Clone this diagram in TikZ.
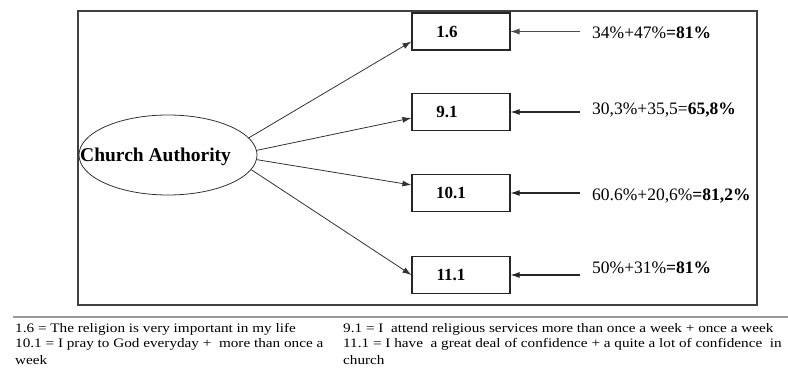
\documentclass[tikz,border=0pt]{standalone}
\usepackage{fontspec}
\setmainfont{Liberation Serif}
\newfontfamily\legendfont[FakeStretch=1.17]{Liberation Serif}
\usetikzlibrary{shapes.geometric,arrows.meta}
\tikzset{
  frame/.style={line width=1.3pt, draw=black!75},
  boxnode/.style={draw=black!85, line width=1.1pt, minimum width=98pt, minimum height=37pt, inner sep=0pt},
  boxtext/.style={xshift=-14pt, inner sep=0pt, font=\fontsize{17}{19}\selectfont\bfseries},
  oval/.style={ellipse, draw=black!80, line width=0.8pt, minimum width=178pt, minimum height=80pt, inner sep=0pt},
  fanarrow/.style={draw=black!80, line width=0.8pt, -{Latex[length=9pt,width=6pt]}},
  inarrow/.style={draw=black!85, line width=1.1pt, -{Latex[length=9pt,width=6pt]}},
  pct/.style={anchor=west, inner xsep=12pt, inner ysep=1pt, font=\fontsize{17.5}{19}\selectfont},
  legend/.style={anchor=base west, inner sep=0pt, font=\legendfont\fontsize{13}{15}\selectfont}
}
\begin{document}
\begin{tikzpicture}[x=1pt,y=-1pt]
\useasboundingbox (0,0) rectangle (788,369);
\draw[frame] (78,11) rectangle (757,305);
\node[oval] (ca) at (168,155) {};
\node[anchor=west, inner sep=0pt, font=\fontsize{19.5}{21}\selectfont\bfseries] (catext) at (80,157) {Church Authority};
\node[boxnode, label={[boxtext]center:1.6}] (b1) at (461,31.5) {};
\node[boxnode, label={[boxtext]center:9.1}] (b2) at (461,112) {};
\node[boxnode, label={[boxtext, xshift=4pt]center:10.1}] (b3) at (461,193) {};
\node[boxnode, label={[boxtext, xshift=4pt]center:11.1}] (b4) at (461,275) {};
\draw[fanarrow] (ca.12) -- ([yshift=-10pt]b1.west);
\draw[fanarrow] (ca.3) -- ([yshift=-6pt]b2.west);
\draw[fanarrow] (ca.-3) -- ([yshift=8pt]b3.west);
\draw[fanarrow] (ca.-10) -- (b4.west);
\node[pct] (l1) at (580,33) {34\%+47\%\textbf{=81\%}};
\node[pct] (l2) at (580,110) {30,3\%+35,5=\textbf{65,8\%}};
\node[pct] (l3) at (580,196) {60.6\%+20,6\%\textbf{=81,2\%}};
\node[pct] (l4) at (580,268) {50\%+31\%\textbf{=81\%}};
\draw[inarrow, draw=black!70, line width=0.7pt] (b1.east -| l1.west) -- (b1.east);
\draw[inarrow] (b2.east -| l2.west) -- (b2.east);
\draw[inarrow] (b3.east -| l3.west) -- (b3.east);
\draw[inarrow] (b4.east -| l4.west) -- (b4.east);
\coordinate (rl) at (13,317);
\coordinate (rr) at (788,317);
\draw[draw=black!40, line width=1.5pt] (rl) -- (rr);
\node[legend] (t1) at (15,332) {1.6 = The religion is very important in my life};
\node[legend] (t2) at (343,332) {9.1 = I\ \ attend religious services more than once a week + once a week};
\node[legend] (t3) at (15,347) {10.1 = I pray to God everyday +\ \ more than once a};
\node[legend] (t4) at (343,347) {11.1 = I have\ \ a great deal of confidence + a quite a lot of confidence\ \ in};
\node[legend] (t5) at (15,364) {week};
\node[legend] (t6) at (343,364) {church};
\end{tikzpicture}
\end{document}
